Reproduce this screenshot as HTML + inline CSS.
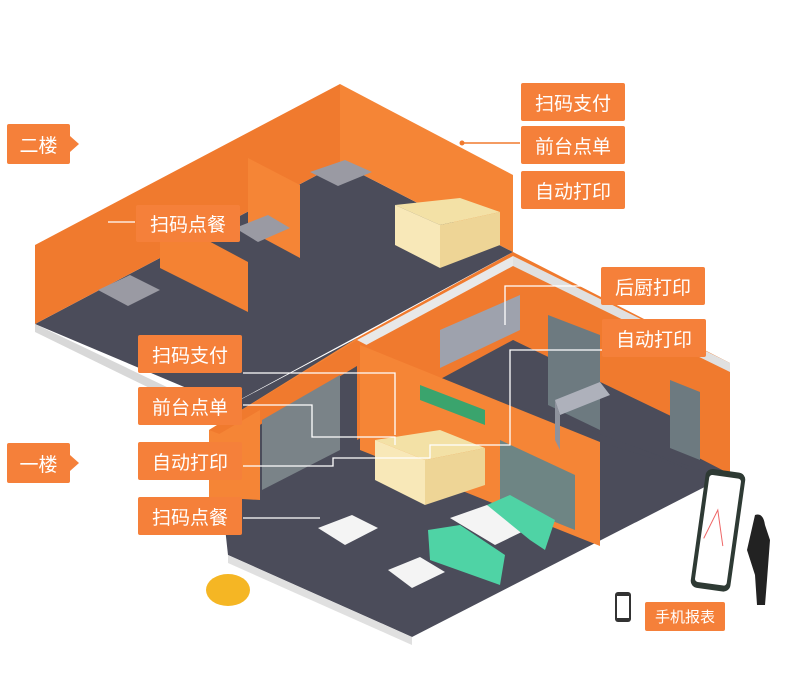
<!DOCTYPE html>
<html><head><meta charset="utf-8"><style>
body{margin:0;background:#fff;width:791px;height:685px;overflow:hidden;position:relative;font-family:"Liberation Sans","Noto Sans CJK SC",sans-serif}
.l{position:absolute;background:#F5803A;color:#fff;font-size:19px;display:flex;align-items:center;justify-content:center;border-radius:2px}
svg{position:absolute;left:0;top:0}
</style></head><body>
<svg width="791" height="685" viewBox="0 0 791 685">
<!-- upper floor -->
<polygon points="35,324 340,163 513,252 230,405 215,400" fill="#4b4c5a"/>
<polygon points="35,324 215,410 215,420 35,332" fill="#d8d8d8"/>
<polygon points="35,245 340,84 340,163 35,324" fill="#F07A2E"/>
<polygon points="340,84 513,175 513,252 340,163" fill="#F58536"/>
<polygon points="248,158 300,185 300,258 248,230" fill="#F58536"/>
<polygon points="160,215 248,262 248,312 160,268" fill="#F48233"/>
<polygon points="395,205 440,225 500,212 460,198" fill="#f3e1a6"/>
<polygon points="440,225 500,212 500,245 440,268" fill="#eed596"/>
<polygon points="395,205 440,225 440,268 395,245" fill="#f8e8b8"/>
<polygon points="310,172 345,160 372,172 338,186" fill="#9a9aa3"/>
<polygon points="235,228 268,215 290,228 258,242" fill="#9a9aa3"/>
<polygon points="98,290 130,275 160,290 128,306" fill="#9a9aa3"/>
<!-- lower floor -->
<polygon points="222,500 228,555 412,637 730,474 513,350 357,338 240,400" fill="#4b4c5a"/>
<polygon points="228,555 412,637 412,645 228,563" fill="#e0e0e0"/>
<!-- lower walls -->
<polygon points="357,338 513,252 730,363 730,474 513,362 357,440" fill="#F07A2E"/>
<polygon points="357,340 513,256 513,266 357,350" fill="#e8e8e8"/>
<polygon points="513,256 730,363 730,372 513,266" fill="#e0e0e0"/>
<polygon points="420,390 513,340 610,392 620,440 690,470 600,442" fill="#4b4c5a"/>
<polygon points="513,340 700,430 700,470 560,420 500,400" fill="#4b4c5a"/>
<polygon points="209,430 357,338 357,360 209,455" fill="#F58536"/>
<polygon points="209,430 357,340 380,352 235,440" fill="#F07A2E"/>
<polygon points="209,440 260,410 260,500 209,497" fill="#F58536"/>
<polygon points="262,420 340,375 340,450 262,490" fill="#7a8388"/>
<polygon points="360,345 600,442 600,546 360,450" fill="#F58536"/>
<polygon points="500,440 575,475 575,530 500,500" fill="#6e8584"/>
<polygon points="420,385 485,410 485,425 420,400" fill="#3aa46d"/>
<polygon points="548,315 600,335 600,430 548,405" fill="#6d7a80"/>
<polygon points="670,380 700,392 700,460 670,448" fill="#6d7a80"/>
<polygon points="440,330 520,295 520,330 440,368" fill="#9ea2ad"/>
<polygon points="555,400 600,382 610,395 560,415" fill="#aeb1bb"/>
<polygon points="555,400 560,415 560,450 555,440" fill="#8e929d"/>
<polygon points="375,440 425,460 485,448 440,430" fill="#f3e1a6"/>
<polygon points="425,460 485,448 485,485 425,505" fill="#eed596"/>
<polygon points="375,440 425,460 425,505 375,480" fill="#f8e8b8"/>
<polygon points="318,528 352,515 378,528 345,545" fill="#f4f4f4"/>
<polygon points="388,570 420,557 445,572 412,588" fill="#f4f4f4"/>
<polygon points="450,518 487,505 530,528 495,545" fill="#f4f4f4"/>
<polygon points="428,530 460,525 505,555 500,585 430,560" fill="#4fd3a5"/>
<polygon points="487,505 510,495 555,520 545,550 530,540" fill="#4fd3a5"/>
<ellipse cx="228" cy="590" rx="22" ry="16" fill="#f5b624"/>
<g transform="rotate(8 716 530)"><rect x="698" y="470" width="40" height="120" rx="7" fill="#2e3a34"/><rect x="702" y="476" width="32" height="108" rx="3" fill="#fff"/><path d="M705 540 L715 510 L725 545" stroke="#e66" fill="none"/></g>
<path d="M755 515 q8 -3 10 10 l5 15 l-3 40 l-2 25 h-8 l-2 -30 l-8 -25 z" fill="#222"/>
<rect x="615" y="592" width="16" height="30" rx="3" fill="#333"/><rect x="617" y="596" width="12" height="22" fill="#fff"/>
<g stroke="#fff" stroke-width="1.3" fill="none">
<path d="M243 373 H395 V435"/>
<path d="M243 405 H312 V437 H395 V445"/>
<path d="M243 466 H333 V458 H430 V445 H510 V350 H603"/>
<path d="M243 518 H320"/>
<path d="M601 286 H505 V325"/>
<path d="M108 222 H135"/>
</g>
<path d="M462 143 H520" stroke="#F07A2E" stroke-width="1.5"/>
<circle cx="462" cy="143" r="2.5" fill="#F07A2E"/>
</svg>
<div class="l" style="left:7px;top:124px;width:63px;height:40px">二楼</div>
<div style="position:absolute;left:70px;top:136px;border-left:9px solid #F5803A;border-top:8px solid transparent;border-bottom:8px solid transparent"></div>
<div class="l" style="left:7px;top:443px;width:63px;height:40px">一楼</div>
<div style="position:absolute;left:70px;top:455px;border-left:9px solid #F5803A;border-top:8px solid transparent;border-bottom:8px solid transparent"></div>
<div class="l" style="left:521px;top:83px;width:104px;height:38px">扫码支付</div>
<div class="l" style="left:521px;top:126px;width:104px;height:38px">前台点单</div>
<div class="l" style="left:521px;top:171px;width:104px;height:38px">自动打印</div>
<div class="l" style="left:136px;top:205px;width:104px;height:37px">扫码点餐</div>
<div class="l" style="left:601px;top:267px;width:104px;height:38px">后厨打印</div>
<div class="l" style="left:602px;top:319px;width:104px;height:38px">自动打印</div>
<div class="l" style="left:138px;top:335px;width:104px;height:38px">扫码支付</div>
<div class="l" style="left:138px;top:387px;width:104px;height:38px">前台点单</div>
<div class="l" style="left:138px;top:442px;width:104px;height:38px">自动打印</div>
<div class="l" style="left:138px;top:497px;width:104px;height:38px">扫码点餐</div>
<div class="l" style="left:645px;top:602px;width:80px;height:29px;font-size:15px">手机报表</div>
</body></html>
